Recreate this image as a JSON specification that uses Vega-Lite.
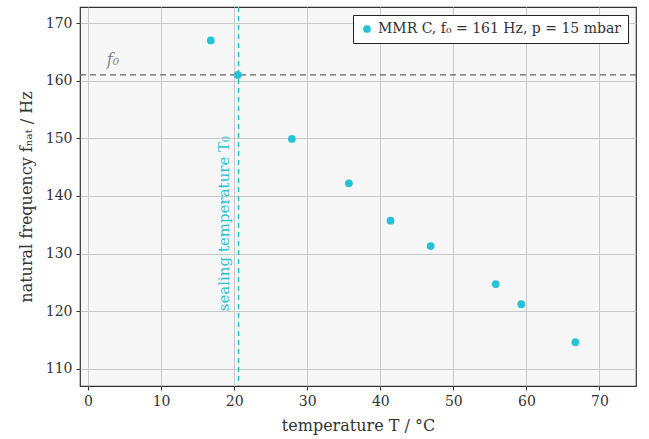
{
  "$schema": "https://vega.github.io/schema/vega-lite/v6.json",
  "width": 556,
  "height": 379,
  "autosize": {"type": "none"},
  "padding": {"left": 80, "top": 7, "right": 13, "bottom": 53},
  "background": "white",
  "config": {
    "font": "DejaVu Serif",
    "view": {"stroke": "#333333", "strokeWidth": 1.2, "fill": "#f7f7f7"},
    "axis": {
      "labelFont": "DejaVu Serif",
      "titleFont": "DejaVu Serif",
      "labelFontSize": 14,
      "titleFontSize": 16,
      "labelColor": "#333",
      "titleColor": "#333",
      "titleFontWeight": "normal",
      "gridColor": "#c8c8c8",
      "gridWidth": 1,
      "domain": false,
      "tickColor": "#333",
      "tickSize": 4,
      "labelPadding": 4
    }
  },
  "datasets": {
    "pts": [
      {"T": 16.8, "f": 167.0, "series": "MMR C, f₀ = 161 Hz, p = 15 mbar"},
      {"T": 20.5, "f": 161.0, "series": "MMR C, f₀ = 161 Hz, p = 15 mbar"},
      {"T": 27.9, "f": 149.9, "series": "MMR C, f₀ = 161 Hz, p = 15 mbar"},
      {"T": 35.7, "f": 142.2, "series": "MMR C, f₀ = 161 Hz, p = 15 mbar"},
      {"T": 41.4, "f": 135.7, "series": "MMR C, f₀ = 161 Hz, p = 15 mbar"},
      {"T": 46.9, "f": 131.3, "series": "MMR C, f₀ = 161 Hz, p = 15 mbar"},
      {"T": 55.8, "f": 124.7, "series": "MMR C, f₀ = 161 Hz, p = 15 mbar"},
      {"T": 59.3, "f": 121.2, "series": "MMR C, f₀ = 161 Hz, p = 15 mbar"},
      {"T": 66.7, "f": 114.6, "series": "MMR C, f₀ = 161 Hz, p = 15 mbar"}
    ]
  },
  "layer": [
    {
      "data": {"values": [{"f": 161}]},
      "mark": {"type": "rule", "color": "#666666", "strokeDash": [6, 4], "strokeWidth": 1.3},
      "encoding": {"y": {"field": "f", "type": "quantitative", "scale": {"domain": [107, 172.8], "nice": false, "zero": false}}}
    },
    {
      "data": {"values": [{"T": 20.6}]},
      "mark": {"type": "rule", "color": "#22c3d8", "strokeDash": [5, 4], "strokeWidth": 1.5},
      "encoding": {"x": {"field": "T", "type": "quantitative", "scale": {"domain": [-1.1, 75], "nice": false, "zero": false}}}
    },
    {
      "data": {"name": "pts"},
      "mark": {"type": "circle", "size": 60, "opacity": 1},
      "encoding": {
        "x": {
          "field": "T", "type": "quantitative",
          "scale": {"domain": [-1.1, 75], "nice": false, "zero": false},
          "axis": {"values": [0, 10, 20, 30, 40, 50, 60, 70], "title": "temperature T / °C", "titlePadding": 9}
        },
        "y": {
          "field": "f", "type": "quantitative",
          "scale": {"domain": [107, 172.8], "nice": false, "zero": false},
          "axis": {"values": [110, 120, 130, 140, 150, 160, 170], "title": "natural frequency fₙₐₜ / Hz", "titlePadding": 11}
        },
        "color": {
          "field": "series", "type": "nominal",
          "scale": {"range": ["#26c3d6"]},
          "legend": {
            "title": null,
            "orient": "top-right",
            "offset": 8,
            "fillColor": "white",
            "strokeColor": "#222",
            "padding": 7,
            "labelFont": "DejaVu Serif",
            "labelFontSize": 14,
            "labelColor": "#333",
            "symbolType": "circle",
            "symbolSize": 60,
            "labelLimit": 400
          }
        }
      }
    },
    {
      "data": {"values": [{"T": 3.4, "f": 163.6, "label": "f₀"}]},
      "mark": {"type": "text", "color": "#888888", "fontSize": 16, "fontStyle": "italic", "font": "DejaVu Serif"},
      "encoding": {
        "x": {"field": "T", "type": "quantitative"},
        "y": {"field": "f", "type": "quantitative"},
        "text": {"field": "label"}
      }
    },
    {
      "data": {"values": [{"T": 18.6, "f": 135.2, "label": "sealing temperature T₀"}]},
      "mark": {"type": "text", "color": "#26c3d6", "fontSize": 15, "angle": 270, "font": "DejaVu Serif"},
      "encoding": {
        "x": {"field": "T", "type": "quantitative"},
        "y": {"field": "f", "type": "quantitative"},
        "text": {"field": "label"}
      }
    }
  ]
}
